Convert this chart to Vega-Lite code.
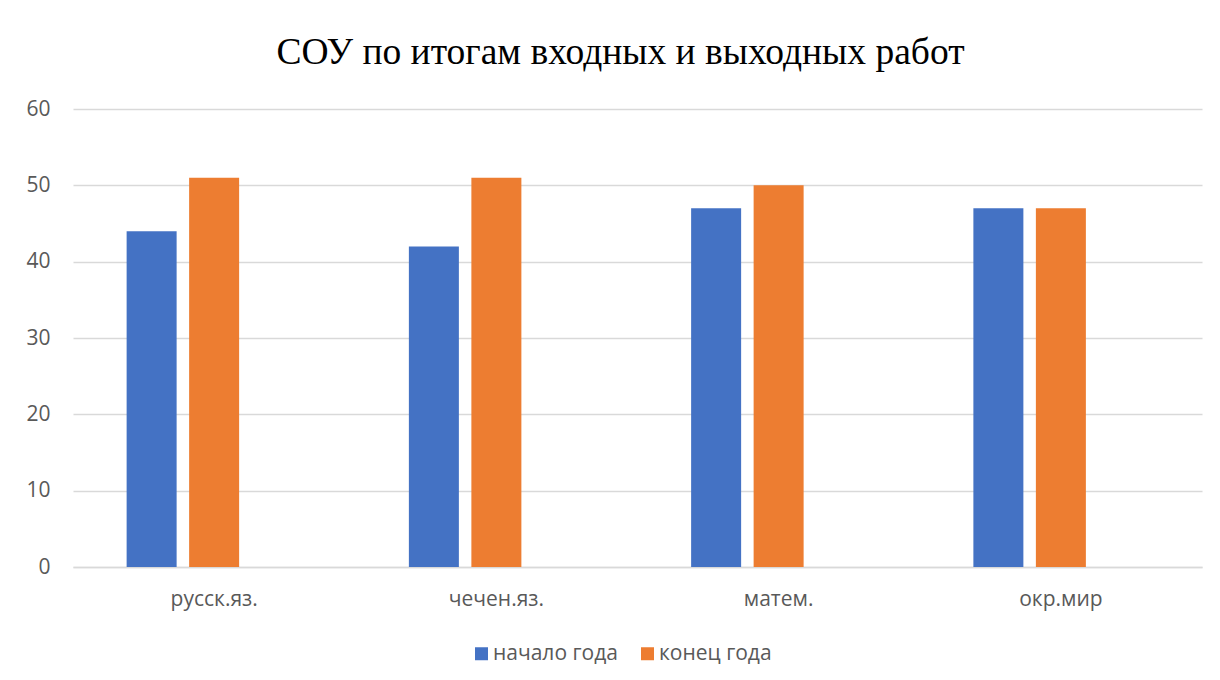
{
  "$schema": "https://vega.github.io/schema/vega-lite/v6.json",
  "autosize": "none",
  "width": 1129,
  "height": 458,
  "padding": {"left": 73, "top": 109, "right": 18, "bottom": 113},
  "background": "white",
  "title": {
    "text": "СОУ по итогам входных и выходных работ",
    "font": "Liberation Serif",
    "fontSize": 37.5,
    "fontWeight": "normal",
    "color": "#000000",
    "anchor": "middle",
    "baseline": "alphabetic",
    "offset": 0,
    "dy": 3,
    "dx": -17
  },
  "data": {
    "values": [
      {"subject": "русск.яз.", "series": "начало года", "value": 44},
      {"subject": "русск.яз.", "series": "конец года", "value": 51},
      {"subject": "чечен.яз.", "series": "начало года", "value": 42},
      {"subject": "чечен.яз.", "series": "конец года", "value": 51},
      {"subject": "матем.", "series": "начало года", "value": 47},
      {"subject": "матем.", "series": "конец года", "value": 50},
      {"subject": "окр.мир", "series": "начало года", "value": 47},
      {"subject": "окр.мир", "series": "конец года", "value": 47}
    ]
  },
  "mark": {"type": "bar"},
  "encoding": {
    "x": {
      "field": "subject",
      "type": "nominal",
      "sort": null,
      "scale": {"paddingInner": 0, "paddingOuter": 0},
      "axis": {
        "title": null,
        "labelAngle": 0,
        "ticks": false,
        "labelPadding": 21,
        "labelFont": "Open Sans",
        "labelFontSize": 21,
        "labelColor": "#595959",
        "domainColor": "#d9d9d9",
        "domainWidth": 1.5,
        "grid": false
      }
    },
    "xOffset": {
      "field": "series",
      "type": "nominal",
      "scale": {"domain": ["начало года", "конец года", "_"], "paddingInner": 0.2, "paddingOuter": 0.858}
    },
    "y": {
      "field": "value",
      "type": "quantitative",
      "scale": {"domain": [0, 60]},
      "axis": {
        "title": null,
        "values": [0, 10, 20, 30, 40, 50, 60],
        "ticks": false,
        "domain": false,
        "labelPadding": 23,
        "labelFont": "Open Sans",
        "labelFontSize": 21,
        "labelColor": "#595959",
        "gridColor": "#d9d9d9",
        "gridWidth": 1.5
      }
    },
    "color": {
      "field": "series",
      "type": "nominal",
      "scale": {"domain": ["начало года", "конец года"], "range": ["#4472C4", "#ED7D31"]},
      "legend": {
        "title": null,
        "orient": "none",
        "direction": "horizontal",
        "legendX": 398,
        "legendY": 534,
        "symbolType": "square",
        "symbolSize": 169,
        "symbolStrokeWidth": 0,
        "labelFont": "Open Sans",
        "labelFontSize": 21,
        "labelColor": "#595959",
        "labelOffset": 1,
        "columnPadding": 19,
        "padding": 0
      }
    }
  },
  "config": {
    "view": {"stroke": null}
  }
}
